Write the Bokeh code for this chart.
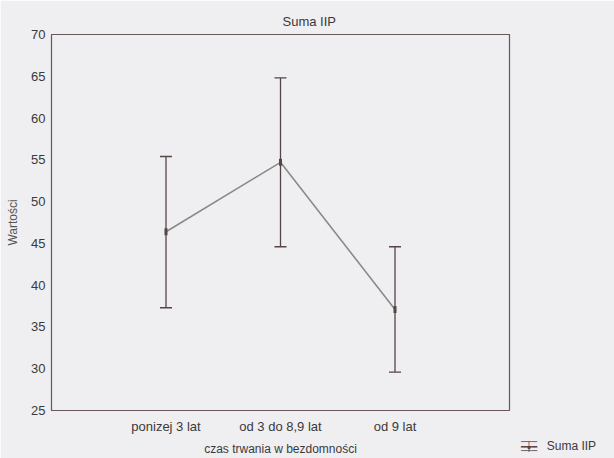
from bokeh.plotting import figure
from bokeh.models import (Range1d, FixedTicker, Whisker, TeeHead, Label, Title,
                          ColumnDataSource)
from bokeh.embed import file_html
from bokeh.resources import INLINE

# ---- data ----
categories = ["ponizej 3 lat", "od 3 do 8,9 lat", "od 9 lat"]
means = [46.4, 54.7, 37.1]
upper = [55.4, 64.8, 44.6]
lower = [37.3, 44.6, 29.6]
y_ticks = [25, 30, 35, 40, 45, 50, 55, 60, 65, 70]
title_text = "Suma IIP"
x_label = "czas trwania w bezdomności"
y_label = "Wartości"
legend_label = "Suma IIP"

BG = "#efeef1"
FRAME = "#6a5656"
DARK = "#574545"
LINE = "#8a8a8a"
TEXT = "#3a3a3a"
FONT = "Liberation Sans"
MONO = "DejaVu Sans Mono"

xs = list(range(1, len(categories) + 1))
src = ColumnDataSource(dict(x=xs, mean=means, upper=upper, lower=lower))

p = figure(width=614, height=458, title=None,
           x_range=Range1d(0, 4), y_range=Range1d(25, 70),
           output_backend="svg", toolbar_location=None,
           min_border_left=51, min_border_right=95,
           min_border_top=34, min_border_bottom=46,
           background_fill_color=BG, border_fill_color=BG,
           outline_line_color=FRAME, outline_line_width=1.2)

p.grid.visible = False
for ax in (p.xaxis, p.yaxis):
    ax.axis_line_color = None
    ax.major_tick_line_color = None
    ax.minor_tick_line_color = None
    ax.major_tick_out = 0
    ax.major_tick_in = 0
    ax.minor_tick_out = 0
    ax.major_label_text_font = FONT
    ax.major_label_text_color = TEXT
    ax.major_label_text_font_size = "13px"
    ax.axis_label_text_font = FONT
    ax.axis_label_text_font_size = "12px"
    ax.axis_label_text_font_style = "normal"
    ax.axis_label_text_color = TEXT

p.xaxis.ticker = FixedTicker(ticks=xs)
p.xaxis.major_label_overrides = {x: c for x, c in zip(xs, categories)}
p.xaxis.major_label_standoff = 8
p.xaxis.axis_label = x_label
p.xaxis.axis_label_standoff = 5
p.yaxis.ticker = FixedTicker(ticks=y_ticks)
p.yaxis.major_label_standoff = 6
p.yaxis.axis_label = y_label
p.yaxis.axis_label_standoff = 8
p.yaxis.axis_label_text_color = "#555555"

p.add_layout(Title(text=title_text, align="left", offset=231, standoff=11,
                   text_font=FONT, text_font_size="13px",
                   text_font_style="normal", text_color=TEXT), "above")

# connecting line of means
p.line("x", "mean", source=src, line_color=LINE, line_width=1.6)

# error bars
head = dict(size=12, line_color=DARK, line_width=1.3)
p.add_layout(Whisker(source=src, base="x", upper="upper", lower="lower",
                     line_color=DARK, line_width=1.3,
                     upper_head=TeeHead(**head), lower_head=TeeHead(**head)))
p.rect("x", "mean", source=src, width=3, height=7, width_units="screen",
       height_units="screen", fill_color=DARK, line_color=None)

# legend, drawn in the right-hand panel below the frame
def leg_text(x, y, txt, font, size, align="left", color=TEXT):
    p.add_layout(Label(x=x, y=y, text=txt, text_align=align, text_baseline="middle",
                       text_font=font, text_font_size=size, text_color=color), "right")

leg_text(4.325, 20.71, legend_label, FONT, "12px")
leg_text(4.171, 20.65, "\u2502", MONO, "9px", "center", DARK)
leg_text(4.171, 21.19, "\u2500\u2500\u2500", MONO, "9px", "center", DARK)
leg_text(4.171, 20.65, "\u2501\u2501\u2501", MONO, "9px", "center", DARK)
leg_text(4.171, 20.11, "\u2500\u2500\u2500", MONO, "9px", "center", DARK)
leg_text(4.171, 20.65, "\u25cf", MONO, "5px", "center", DARK)

open("out.html", "w").write(file_html(p, INLINE))
